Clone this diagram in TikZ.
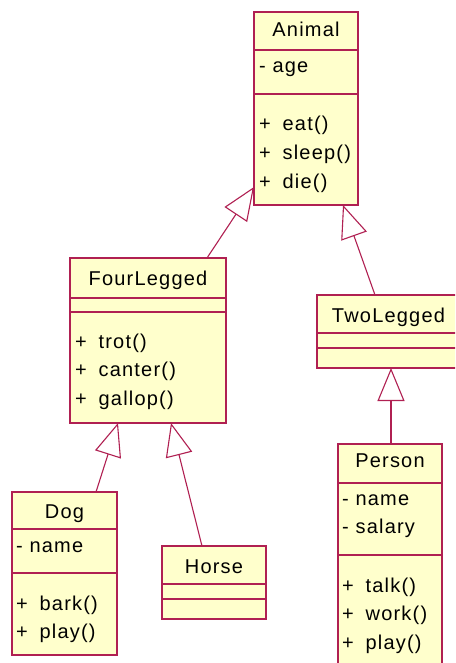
\documentclass[tikz,border=0pt]{standalone}
\usepackage{fontspec}
\newfontfamily\umlfont[LetterSpace=6]{Liberation Sans}
\definecolor{UMLRed}{RGB}{176,32,82}
\definecolor{UMLFill}{RGB}{255,255,204}
\usetikzlibrary{arrows.meta, calc}

\begin{document}
\begin{tikzpicture}[x=1pt, y=-1pt,
	cls/.style={rectangle,draw=UMLRed,fill=UMLFill,line width=1.2pt,
		anchor=north west,inner sep=0pt,outer sep=0pt},
	ttl/.style={font=\umlfont\fontsize{20}{24}\selectfont,anchor=base,inner sep=0pt},
	mem/.style={font=\umlfont\fontsize{20}{24}\selectfont,anchor=base west,inner sep=0pt},
	sep/.style={draw=UMLRed,line width=1.2pt},
	inh/.style={draw=UMLRed,line width=1.1pt,-{Triangle[open,length=33pt,width=27pt]}}]
\clip (0,0) rectangle (455,663);
\fill[white] (0,0) rectangle (455,663);
% class boxes
\node[cls,minimum width=104pt,minimum height=193pt] (animal) at (254,12) {};
\node[cls,minimum width=156pt,minimum height=165pt] (fourlegged) at (70,258) {};
\node[cls,minimum width=143pt,minimum height=73pt] (twolegged) at (317,295) {};
\node[cls,minimum width=105pt,minimum height=163pt] (dog) at (12,492) {};
\node[cls,minimum width=104pt,minimum height=73pt] (horse) at (162,546) {};
\node[cls,minimum width=104pt,minimum height=240pt] (person) at (338,444) {};
% compartments
\foreach \c/\y in {animal/50,animal/94,fourlegged/298,fourlegged/312,
	twolegged/333,twolegged/348,dog/529,dog/573,horse/584,horse/599,
	person/483,person/555}
	\draw[sep] (\c.west |- 0,\y) -- (\c.east |- 0,\y);
% class names
\node[ttl] (animalT) at (animal.center |- 0,37) {Animal};
\node[ttl] (fourleggedT) at (fourlegged.center |- 0,285) {FourLegged};
\node[ttl] (twoleggedT) at (twolegged.center |- 0,322) {TwoLegged};
\node[ttl] (dogT) at (dog.center |- 0,518) {Dog};
\node[ttl] (horseT) at (horse.center |- 0,573) {Horse};
\node[ttl] (personT) at (person.center |- 0,467) {Person};
% attributes
\node[mem] (animalA1) at (259,73) {- age};
\node[mem] (dogA1) at (16,552) {- name};
\foreach \t [count=\i] in {name,salary}
	\node[mem] (personA\i) at (342,476.5+28.5*\i) {- \t};
% operations
\foreach \t [count=\i] in {eat(),sleep(),die()}
	\node[mem] (animalO\i) at (259,102.5+28.5*\i) {+\hspace{5pt} \t};
\foreach \t [count=\i] in {trot(),canter(),gallop()}
	\node[mem] (fourleggedO\i) at (75,319.5+28.5*\i) {+\hspace{5pt} \t};
\foreach \t [count=\i] in {bark(),play()}
	\node[mem] (dogO\i) at (16,581.5+28.5*\i) {+\hspace{5pt} \t};
\foreach \t [count=\i] in {talk(),work(),play()}
	\node[mem] (personO\i) at (342,563.5+28.5*\i) {+\hspace{5pt} \t};
% generalisations
\draw[inh] ($(fourlegged.north west)+(137,0)$) -- ($(animal.south west)+(0,-18)$);
\draw[inh] ($(twolegged.north west)+(58,0)$) -- ($(animal.south west)+(89,0)$);
\draw[inh] ($(person.north west)+(53,0)$) -- ($(twolegged.south west)+(74,0)$);
\draw[inh] ($(dog.north west)+(84,0)$) -- ($(fourlegged.south west)+(48,0)$);
\draw[inh] ($(horse.north west)+(40,0)$) -- ($(fourlegged.south west)+(101,0)$);
\end{tikzpicture}
\end{document}
